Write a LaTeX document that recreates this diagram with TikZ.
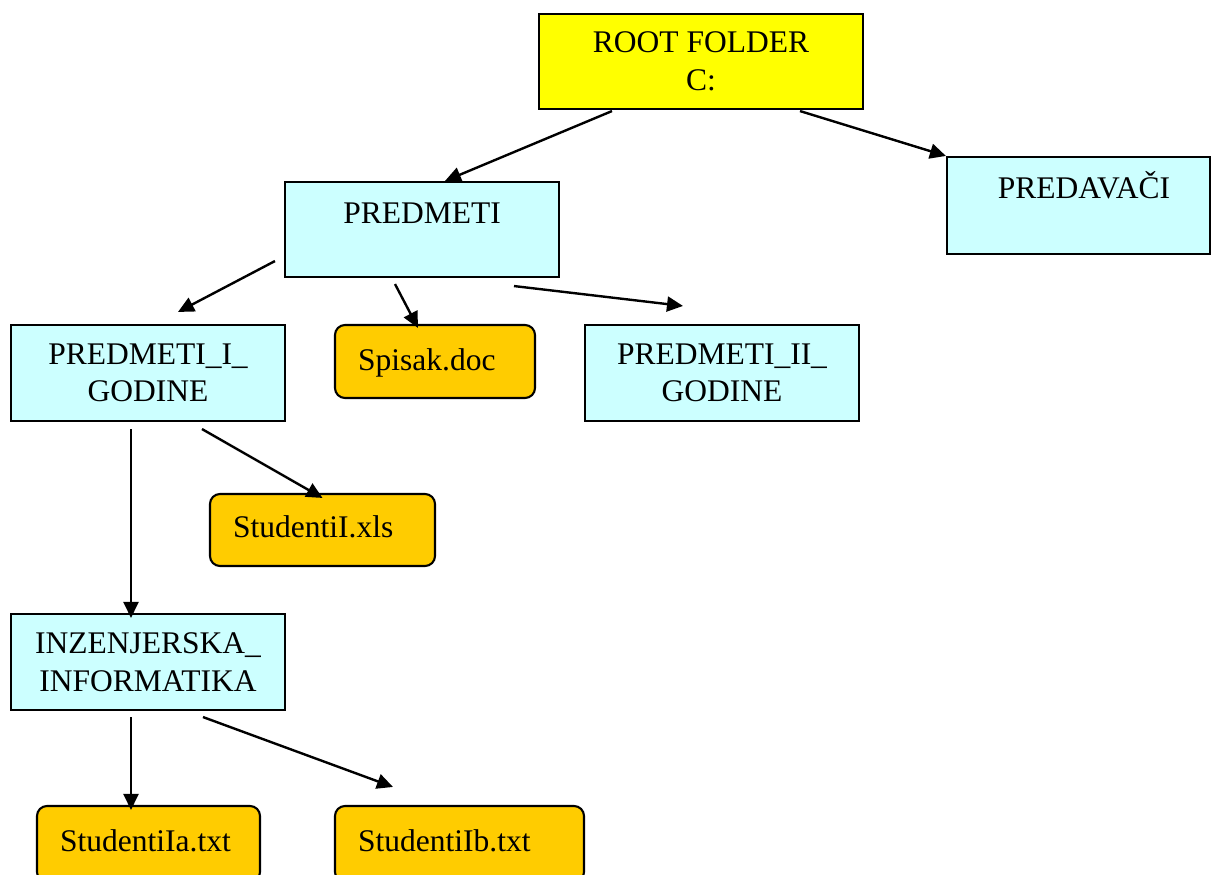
\documentclass[tikz,border=0pt]{standalone}
\usepackage{fontspec}
\setmainfont{Liberation Serif}
\usetikzlibrary{arrows.meta,calc}
\definecolor{rootyellow}{RGB}{255,255,0}
\definecolor{foldercyan}{RGB}{204,255,255}
\definecolor{fileorange}{RGB}{255,204,0}
\newcommand\diagfont{\fontsize{31.5}{37.5}\selectfont}
\begin{document}
\begin{tikzpicture}[x=1pt,y=-1pt,
  folder/.style={draw=black, line width=2.1pt, fill=foldercyan, inner sep=0pt, align=center, font=\diagfont},
  filebox/.style={draw=black, line width=2.1pt, fill=fileorange, rounded corners=10pt, inner sep=0pt},
  lbl/.style={inner sep=0pt, font=\diagfont},
  arr/.style={line width=2.4pt, -{Triangle[length=16pt,width=15pt]}}]
\useasboundingbox (0,0) rectangle (1211,875);

% folders
\node[folder, fill=rootyellow, minimum width=324pt, minimum height=95pt] (root) at (701,61.5) {ROOT FOLDER\\C:};
\node[folder, minimum width=263pt, minimum height=97pt] (pred) at (1078.5,205.5) {};
\node[lbl, anchor=base] (predt) at (1084,198) {PREDAVAČI};
\node[folder, minimum width=274pt, minimum height=95pt] (predmeti) at (422,229.5) {};
\node[lbl, anchor=base] (predmetit) at (422,223) {PREDMETI};
\node[folder, minimum width=274pt, minimum height=96pt] (pig) at (148,373) {PREDMETI\_I\_\\GODINE};
\node[folder, minimum width=274pt, minimum height=96pt] (piig) at (722,373) {PREDMETI\_II\_\\GODINE};
\node[folder, minimum width=274pt, minimum height=96pt] (inz) at (148,662) {INZENJERSKA\_\\INFORMATIKA};

% files
\node[filebox, minimum width=200pt, minimum height=73pt] (spisak) at (435,361.5) {};
\node[lbl, anchor=base west] (spisakt) at (358,370) {Spisak.doc};
\node[filebox, minimum width=225pt, minimum height=72pt] (studI) at (322.5,530) {};
\node[lbl, anchor=base west] (studIt) at (233,537) {StudentiI.xls};
\node[filebox, minimum width=223pt, minimum height=76pt] (sIa) at (148.5,844) {};
\node[lbl, anchor=base west] (sIat) at (60,851) {StudentiIa.txt};
\node[filebox, minimum width=249pt, minimum height=76pt] (sIb) at (459.5,844) {};
\node[lbl, anchor=base west] (sIbt) at (358,851) {StudentiIb.txt};

% connectors
\draw[arr] ($(root.south)+(-89,1)$) -- ($(predmeti.north)+(23,0)$);
\draw[arr] ($(root.south)+(99,1)$) -- (pred.north west);
\draw[arr] ($(predmeti.south west)+(-9,-17)$) -- ($(pig.north)+(30,-12)$);
\draw[arr] ($(predmeti.south)+(-27,6)$) -- ($(spisak.north)+(-17,4)$);
\draw[arr] ($(predmeti.south)+(92,8)$) -- ($(piig.north)+(-39,-18)$);
\draw[arr] ($(pig.south)+(-17,7)$) -- ($(inz.north)+(-17,5)$);
\draw[arr] ($(pig.south)+(54,7)$) -- ($(studI.north)+(0,5)$);
\draw[arr] ($(inz.south)+(-17,6)$) -- ($(sIa.north)+(-17.5,5)$);
\draw[arr] ($(inz.south)+(55,6)$) -- ($(sIb.north)+(-66.5,-18)$);
\end{tikzpicture}
\end{document}
